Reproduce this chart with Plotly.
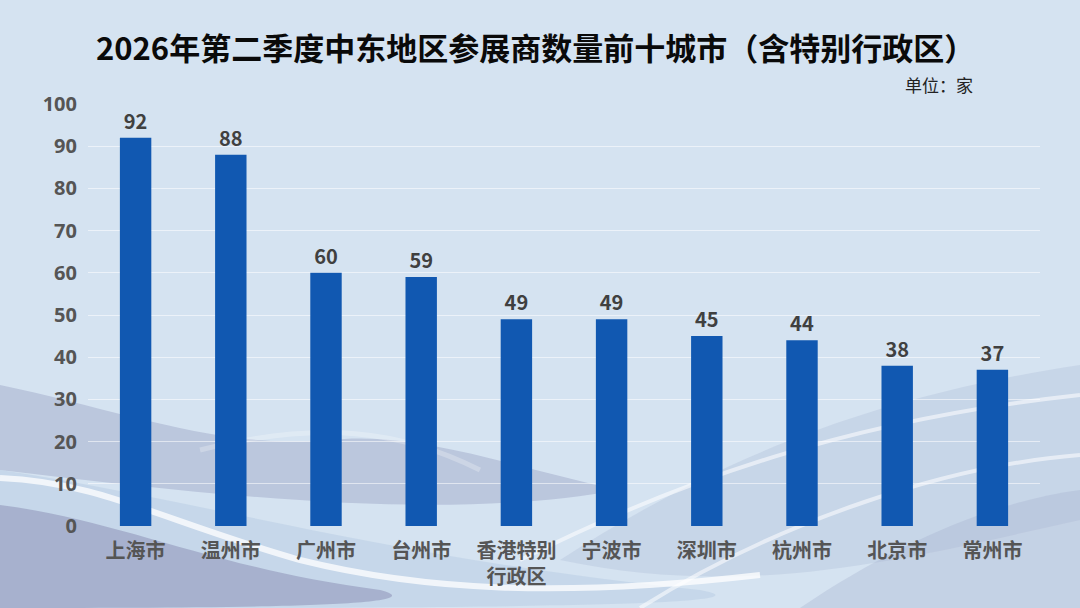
import plotly.graph_objects as go

cities = ["上海市", "温州市", "广州市", "台州市", "香港特别<br>行政区",
          "宁波市", "深圳市", "杭州市", "北京市", "常州市"]
exhibitors = [92, 88, 60, 59, 49, 49, 45, 44, 38, 37]
y_ticks = [0, 10, 20, 30, 40, 50, 60, 70, 80, 90, 100]

W, H = 1080, 608


def px(x, y):
    # pixel position -> paper coords (domain spans whole figure)
    return "%.4f %.4f" % (x / W, 1 - y / H)


def wave(points, close=True):
    d = "M " + px(*points[0])
    rest = points[1:]
    for i in range(0, len(rest), 3):
        d += " C " + ", ".join(px(*p) for p in rest[i:i + 3])
    if close:
        d += " Z"
    return d


def fill(pts, color):
    return dict(type="path", xref="paper", yref="paper", layer="below",
                line_width=0, fillcolor=color, path=wave(pts))


def streak(pts, color, width):
    return dict(type="path", xref="paper", yref="paper", layer="below",
                line=dict(color=color, width=width), path=wave(pts, close=False))


shapes = [
    # grey-blue band on the left
    fill([(0, 385), (120, 410), (220, 450), (330, 440),
          (420, 430), (520, 470), (620, 490),
          (450, 520), (250, 500), (0, 470)], "rgba(155,165,198,0.45)"),
    # bottom light band
    fill([(0, 470), (200, 500), (400, 560), (700, 590),
          (800, 608), (400, 608), (0, 608)], "rgba(185,205,228,0.55)"),
    # dark grey-violet corner bottom left
    fill([(0, 505), (120, 520), (220, 570), (380, 590),
          (450, 608), (200, 608), (0, 608)], "rgba(135,140,178,0.50)"),
    # right side bands
    fill([(560, 560), (700, 470), (850, 400), (1080, 365),
          (1080, 420), (1080, 470), (1080, 520),
          (900, 560), (750, 600), (560, 560)], "rgba(175,190,215,0.35)"),
    fill([(800, 608), (900, 540), (1000, 500), (1080, 490),
          (1080, 530), (1080, 570), (1080, 608),
          (1000, 608), (900, 608), (800, 608)], "rgba(165,178,205,0.35)"),
    # white highlights
    streak([(0, 478), (100, 482), (160, 520), (300, 560),
            (420, 590), (560, 598), (760, 575)], "rgba(255,255,255,0.75)", 6),
    streak([(520, 560), (680, 480), (850, 420), (1080, 395)],
           "rgba(255,255,255,0.55)", 4),
    streak([(640, 608), (780, 520), (950, 465), (1080, 455)],
           "rgba(255,255,255,0.55)", 4),
    streak([(200, 450), (320, 420), (400, 430), (480, 470)],
           "rgba(255,255,255,0.25)", 5),
]

fig = go.Figure()
fig.add_trace(go.Bar(
    x=cities, y=exhibitors,
    marker=dict(color="#1158b1", line_width=0),
    text=exhibitors, textposition="outside", cliponaxis=False,
    textfont=dict(family="Noto Sans CJK SC", size=20, color="#404040", weight="bold"),
    hoverinfo="none",
))

fig.update_layout(
    width=W, height=H,
    margin=dict(l=0, r=0, t=0, b=0),
    paper_bgcolor="#d5e3f1",
    plot_bgcolor="rgba(0,0,0,0)",
    font=dict(family="Noto Sans CJK SC"),
    showlegend=False,
    bargap=0.67,
    shapes=shapes,
    xaxis=dict(
        domain=[88 / W, 1040 / W],
        showgrid=False, zeroline=False, showline=False, ticks="",
        tickfont=dict(size=20, color="#555555", weight="bold"),
        ticklabelstandoff=11,
        automargin=False,
    ),
    yaxis=dict(
        domain=[(H - 526) / H, (H - 104) / H],
        range=[0, 100], tickvals=y_ticks,
        showgrid=True, gridcolor="rgba(255,255,255,0.55)", gridwidth=1,
        zeroline=False, showline=False, ticks="",
        tickfont=dict(family="Noto Sans", size=20, color="#555555", weight="bold"),
        ticklabelstandoff=10,
        automargin=False,
    ),
    annotations=[
        dict(text="2026年第二季度中东地区参展商数量前十城市（含特别行政区）",
             xref="paper", yref="paper", x=535 / W, y=1 - 47 / H,
             xanchor="center", yanchor="middle", showarrow=False,
             font=dict(size=31, color="#0a0a0a", weight="bold")),
        dict(text="单位：家",
             xref="paper", yref="paper", x=975 / W, y=1 - 85 / H,
             xanchor="right", yanchor="middle", showarrow=False,
             font=dict(size=17, color="#222222")),
    ],
)

fig.write_html("out.html", config={"displayModeBar": False},
               post_script="document.body.style.margin='0';")
